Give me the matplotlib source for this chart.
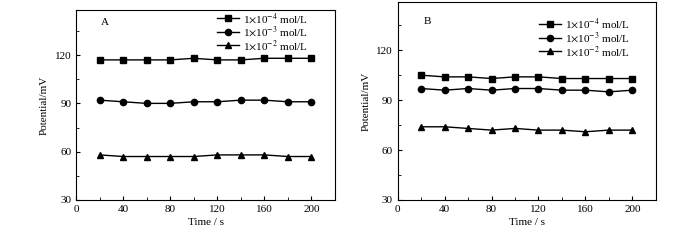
import numpy as np
import matplotlib
matplotlib.use("Agg")
import matplotlib.pyplot as plt
from matplotlib.ticker import MultipleLocator

plt.rcParams['font.family'] = ['Liberation Serif', 'DejaVu Serif']
plt.rcParams['mathtext.fontset'] = 'stix'

time = [20, 40, 60, 80, 100, 120, 140, 160, 180, 200]
labels = [r"1$\times$10$^{-4}$ mol/L", r"1$\times$10$^{-3}$ mol/L", r"1$\times$10$^{-2}$ mol/L"]
markers = ['s', 'o', '^']

# panel A
a_e4 = [117, 117, 117, 117, 118, 117, 117, 118, 118, 118]
a_e3 = [92, 91, 90, 90, 91, 91, 92, 92, 91, 91]
a_e2 = [58, 57, 57, 57, 57, 58, 58, 58, 57, 57]

# panel B
b_e4 = [105, 104, 104, 103, 104, 104, 103, 103, 103, 103]
b_e3 = [97, 96, 97, 96, 97, 97, 96, 96, 95, 96]
b_e2 = [74, 74, 73, 72, 73, 72, 72, 71, 72, 72]

fig = plt.figure(figsize=(7, 2.4), dpi=100)
axA = fig.add_axes([0.1086, 0.1667, 0.370, 0.7917])
axB = fig.add_axes([0.568, 0.1667, 0.369, 0.825])


def panel(ax, series, letter, ylim, leg_anchor, letter_pos):
    for ys, m, lab in zip(series, markers, labels):
        ax.plot(time, ys, color='black', marker=m, markersize=4.5, linewidth=1, label=lab)
    ax.set_xlim(0, 220)
    ax.set_ylim(*ylim)
    ax.xaxis.set_major_locator(MultipleLocator(40))
    ax.xaxis.set_minor_locator(MultipleLocator(20))
    ax.yaxis.set_major_locator(MultipleLocator(30))
    ax.yaxis.set_minor_locator(MultipleLocator(15))
    ax.tick_params(which='both', direction='in', top=False, right=False, labelsize=8)
    ax.tick_params(which='major', length=3)
    ax.tick_params(which='minor', length=2)
    ax.set_xlabel("Time / s", fontsize=8, labelpad=3)
    ax.set_ylabel("Potential/mV", fontsize=8, labelpad=4)
    ax.text(letter_pos[0], letter_pos[1], letter, transform=ax.transAxes, fontsize=8)
    ax.legend(loc='upper left', bbox_to_anchor=leg_anchor, frameon=False, fontsize=8,
              handlelength=2.0, handletextpad=0.3, labelspacing=-0.1, borderpad=0,
              borderaxespad=0)


panel(axA, [a_e4, a_e3, a_e2], "A", (30, 148), (0.545, 0.995), (0.095, 0.92))
panel(axB, [b_e4, b_e3, b_e2], "B", (30, 149), (0.548, 0.925), (0.1, 0.89))

fig.savefig("out.png", dpi=100)
